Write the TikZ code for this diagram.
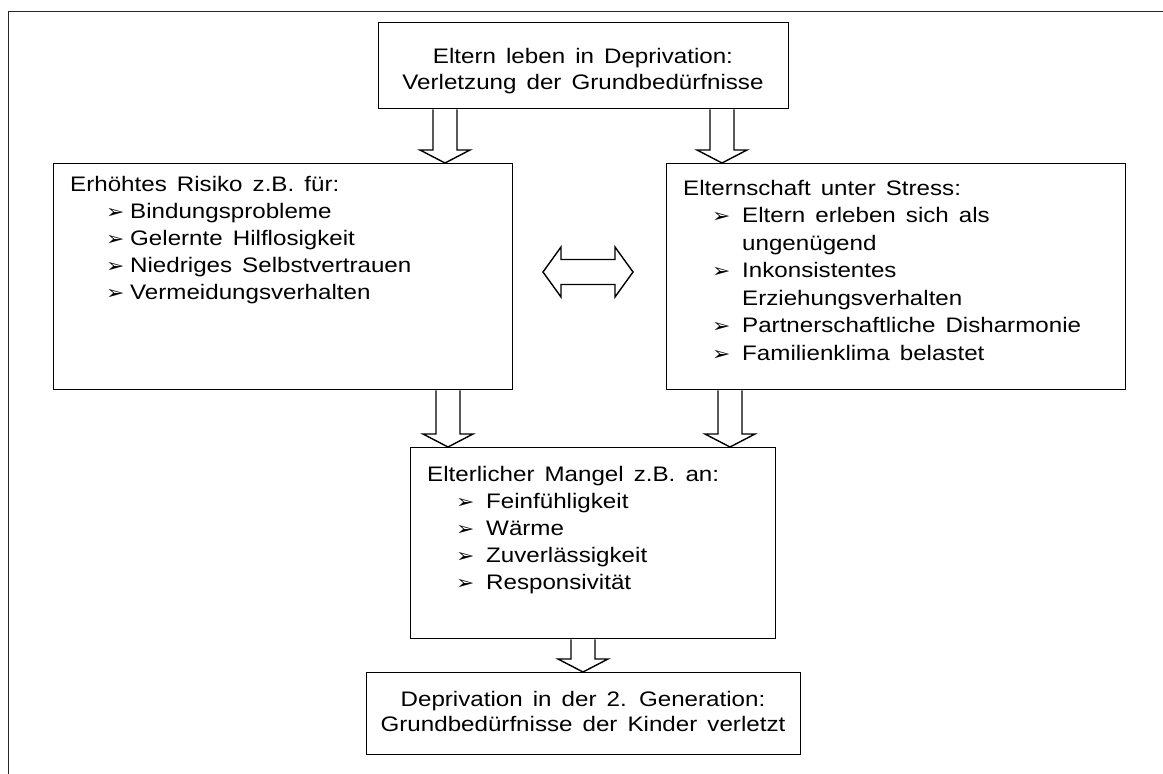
\documentclass[tikz,border=0pt]{standalone}
\usepackage{fontspec}
\setmainfont{Liberation Sans}[FakeStretch=1.15,WordSpace=1.5]
\newfontfamily\bulfont{DejaVu Sans}[FakeStretch=1.15]
\usetikzlibrary{calc}
\newcommand\bul[1]{\makebox[#1][l]{\bulfont\fontsize{19}{19}\selectfont ➢}}
\newcommand\varrow[3]{%
  \draw[blk] let \p1=(#2.south), \p2=(#3.north) in
    (#1pt-12pt,\y1) -- (#1pt-12pt,\y2+13pt) -- (#1pt-25pt,\y2+13pt) -- (#1pt,\y2)
    -- (#1pt+25pt,\y2+13pt) -- (#1pt+12pt,\y2+13pt) -- (#1pt+12pt,\y1);}
\begin{document}
\begin{tikzpicture}[x=1pt,y=-1pt,
  box/.style={draw, line width=1.4pt, inner sep=0, anchor=north west},
  txt/.style={font=\fontsize{21}{24}\selectfont, inner sep=0, anchor=base west},
  ctxt/.style={txt, anchor=base},
  blk/.style={draw, line width=1.4pt, fill=white, line join=miter}]
\useasboundingbox (0,0) rectangle (1163,774);
\begin{scope}
  \clip (0,0) rectangle (1163,774);
  \draw[line width=1.8pt, black!85] (8.5,800) -- (8.5,11.5) -- (1200,11.5);
\end{scope}
% boxes
\node[box, minimum width=410pt, minimum height=86pt] (top) at (378,22) {};
\node[box, minimum width=459pt, minimum height=226pt] (lb) at (53,163) {};
\node[box, minimum width=459pt, minimum height=226pt] (rb) at (666,163) {};
\node[box, minimum width=365pt, minimum height=191pt] (mid) at (410,447) {};
\node[box, minimum width=434pt, minimum height=82pt] (bot) at (366,672) {};
% top box text
\node[ctxt] (t1) at (583,63) {Eltern leben in Deprivation:};
\node[ctxt] (t2) at (583,89) {Verletzung der Grundbedürfnisse};
% left box text
\node[txt] (l0) at (70,191) {Erhöhtes Risiko z.B. für:};
\node[txt] (l1) at (106,218) {\bul{24pt}Bindungsprobleme};
\node[txt] (l2) at (106,245) {\bul{24pt}Gelernte Hilflosigkeit};
\node[txt] (l3) at (106,272) {\bul{24pt}Niedriges Selbstvertrauen};
\node[txt] (l4) at (106,299) {\bul{24pt}Vermeidungsverhalten};
% right box text
\node[txt] (r0) at (683,195) {Elternschaft unter Stress:};
\node[txt] (r1) at (712,222.5) {\bul{30pt}Eltern erleben sich als};
\node[txt] (r2) at (742,250) {ungenügend};
\node[txt] (r3) at (712,277.5) {\bul{30pt}Inkonsistentes};
\node[txt] (r4) at (742,305) {Erziehungsverhalten};
\node[txt] (r5) at (712,332.5) {\bul{30pt}Partnerschaftliche Disharmonie};
\node[txt] (r6) at (712,360) {\bul{30pt}Familienklima belastet};
% middle box text
\node[txt] (m0) at (427,481) {Elterlicher Mangel z.B. an:};
\node[txt] (m1) at (456,508) {\bul{30pt}Feinfühligkeit};
\node[txt] (m2) at (456,535) {\bul{30pt}Wärme};
\node[txt] (m3) at (456,562) {\bul{30pt}Zuverlässigkeit};
\node[txt] (m4) at (456,589) {\bul{30pt}Responsivität};
% bottom box text
\node[ctxt] (b1) at (583,706) {Deprivation in der 2. Generation:};
\node[ctxt] (b2) at (583,731) {Grundbedürfnisse der Kinder verletzt};
% block arrows
\varrow{445}{top}{lb}
\varrow{722}{top}{rb}
\varrow{448}{lb}{mid}
\varrow{730}{rb}{mid}
\varrow{583}{mid}{bot}
\coordinate (dl) at (543,272);
\coordinate (dr) at (633,272);
\draw[blk] let \p1=(dl), \p2=(dr) in
  (\p1) -- (\x1+18pt,\y1+25pt) -- (\x1+18pt,\y1+12.5pt) -- (\x2-18pt,\y1+12.5pt)
  -- (\x2-18pt,\y1+25pt) -- (\p2) -- (\x2-18pt,\y1-25pt) -- (\x2-18pt,\y1-12.5pt)
  -- (\x1+18pt,\y1-12.5pt) -- (\x1+18pt,\y1-25pt) -- cycle;
\end{tikzpicture}
\end{document}
